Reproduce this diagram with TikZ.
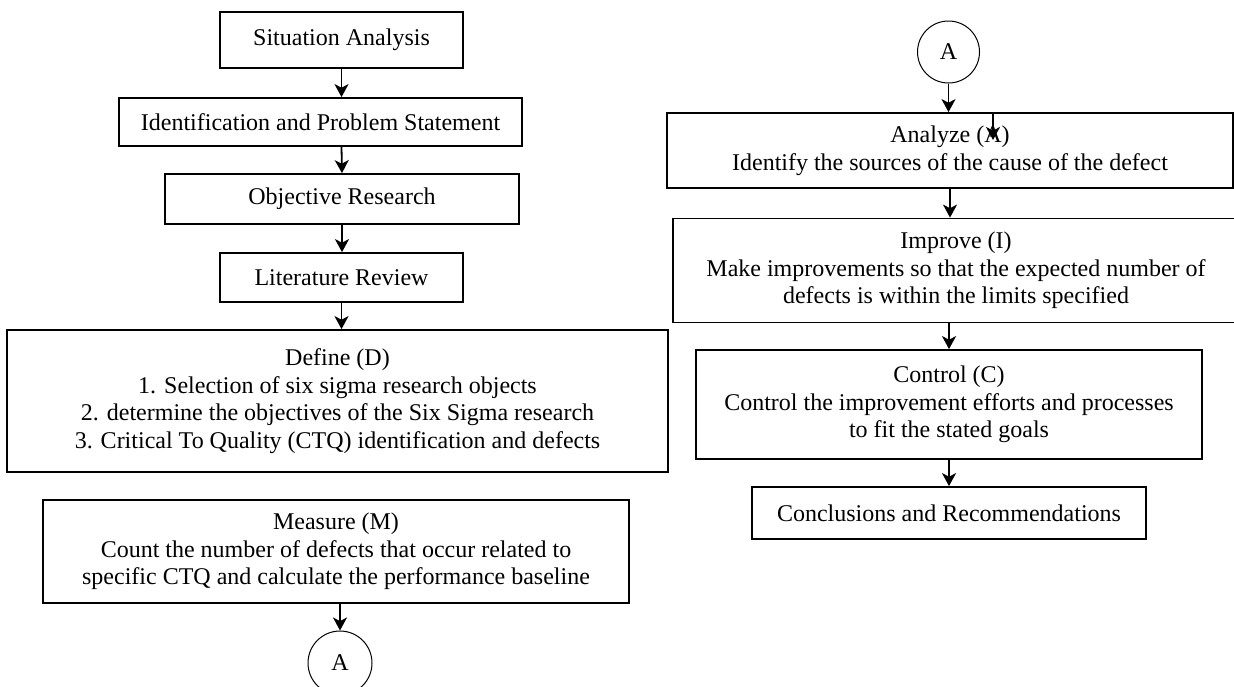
\documentclass[tikz,border=0pt]{standalone}
\usepackage{fontspec}
\setmainfont{Liberation Serif}
\usetikzlibrary{arrows.meta}
\begin{document}
\begin{tikzpicture}[x=0.5pt,y=-0.5pt,
step-box/.style = {draw, line width=0.9pt, align=center, inner sep=0pt,
  font=\fontsize{12}{13.8}\selectfont},
link-circle/.style = {draw, circle, line width=0.5pt, inner sep=0pt,
  font=\fontsize{12}{13.8}\selectfont},
flow-line/.style = {line width=0.9pt, -{Stealth[length=6.5pt,width=7pt,inset=1.8pt]}}
]
\useasboundingbox (0,0) rectangle (1234,686);
\clip (0,0) rectangle (1234,686);
% left column
\node[step-box, minimum width=121.5pt, minimum height=28pt] (situation) at (341.5,40) {Situation Analysis};
\node[step-box, minimum width=201.5pt, minimum height=24pt] (problem) at (320.5,122) {Identification and Problem Statement};
\node[step-box, minimum width=177pt, minimum height=25pt] (objective) at (342,199) {Objective Research};
\node[step-box, minimum width=121.5pt, minimum height=24.5pt] (literature) at (341.5,277.5) {Literature Review};
\node[step-box, minimum width=330.5pt, minimum height=71pt] (define) at (337.5,401)
  {Define (D)\\1. Selection of six sigma research objects\\2. determine the objectives of the Six Sigma research\\3. Critical To Quality (CTQ) identification and defects};
\node[step-box, minimum width=293pt, minimum height=51.5pt] (measure) at (336,551.5)
  {Measure (M)\\Count the number of defects that occur related to\\specific CTQ and calculate the performance baseline};
\node[link-circle, minimum size=32pt] (link-out) at (340,663) {A};
% right column
\node[link-circle, minimum size=31pt] (link-in) at (948.5,52) {A};
\node[step-box, minimum width=283pt, minimum height=37.5pt] (analyze) at (950,150.5)
  {Analyze (A)\\Identify the sources of the cause of the defect};
\node[step-box, minimum width=283pt, minimum height=52pt] (improve) at (956,270.5)
  {Improve (I)\\Make improvements so that the expected number of\\defects is within the limits specified};
\node[step-box, minimum width=253pt, minimum height=54.5pt] (control) at (949,404.5)
  {Control (C)\\Control the improvement efforts and processes\\to fit the stated goals};
\node[step-box, minimum width=197pt, minimum height=26pt] (conclusion) at (949,513) {Conclusions and Recommendations};
\coordinate (stray-tip) at (993,140);
% arrows
\draw[flow-line] (situation.south) -- (situation.south |- problem.north);
\draw[flow-line] (problem.south -| situation.south) -- (objective.north);
\draw[flow-line] (objective.south) -- (objective.south |- literature.north);
\draw[flow-line] (literature.south) -- (literature.south |- define.north);
\draw[flow-line] (measure.south -| link-out.north) -- (link-out.north);
\draw[flow-line] (link-in.south) -- (link-in.south |- analyze.north);
\draw[flow-line] (stray-tip |- analyze.north) -- (stray-tip);
\draw[flow-line] (analyze.south) -- (analyze.south |- improve.north);
\draw[flow-line] (improve.south -| control.north) -- (control.north);
\draw[flow-line] (control.south) -- (control.south |- conclusion.north);
\end{tikzpicture}
\end{document}
